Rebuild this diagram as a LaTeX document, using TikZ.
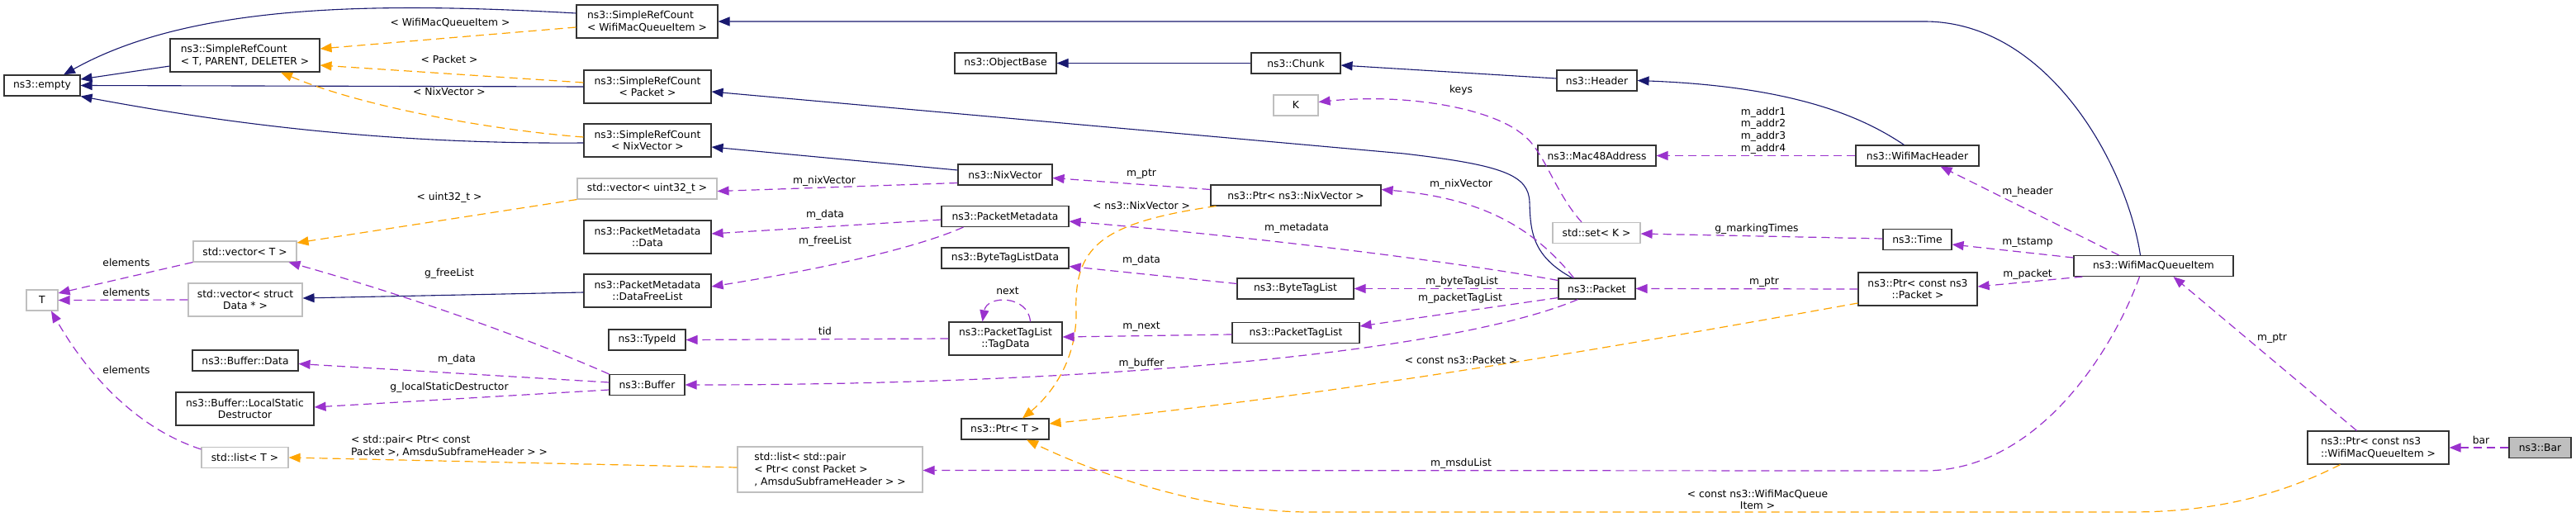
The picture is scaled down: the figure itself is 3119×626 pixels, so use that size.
\documentclass[tikz,border=0pt]{standalone}
\usepackage{fontspec}
\setmainfont{DejaVu Sans}
\usetikzlibrary{arrows.meta}
\definecolor{dxnavy}{RGB}{25,25,112}
\definecolor{dxorchid}{RGB}{154,50,205}
\definecolor{dxorange}{RGB}{255,165,0}
\definecolor{dxgrey}{RGB}{191,191,191}

\begin{document}
\begin{tikzpicture}[x=1pt, y=-1pt, >={Triangle[length=14pt, width=11pt]},
          font=\fontsize{12.3}{14.7}\selectfont,
          cb/.style={draw=black!80, line width=1.1pt, minimum height=25pt,
                     inner xsep=3pt, inner ysep=2pt, align=center},
          gb/.style={cb, draw=dxgrey},
          hb/.style={cb, fill=dxgrey},
          el/.style={inner sep=0pt, align=center},
          ie/.style={->, draw=dxnavy, line width=1.1pt},
          ue/.style={->, draw=dxorchid, line width=1.2pt, dash pattern=on 10pt off 6pt},
          te/.style={->, draw=dxorange, line width=1.2pt, dash pattern=on 10pt off 6pt}]
        \path[use as bounding box, fill=white] (0,0) rectangle (3119,626);
        \node[cb, minimum width=92pt] (empty) at (51,103.5) {ns3::empty};
        \node[cb, minimum width=181pt, minimum height=40pt, align=left] (srct) at (296.5,67) {ns3::SimpleRefCount\\< T, PARENT, DELETER >};
        \node[cb, minimum width=171pt, minimum height=40pt, align=left] (srcq) at (783.5,26) {ns3::SimpleRefCount\\< WifiMacQueueItem >};
        \node[cb, minimum width=154pt, minimum height=40pt] (srcp) at (784,105) {ns3::SimpleRefCount\\< Packet >};
        \node[cb, minimum width=154pt, minimum height=40pt] (srcn) at (784,170) {ns3::SimpleRefCount\\< NixVector >};
        \node[gb, minimum width=169pt] (vecu) at (783.5,228.5) {std::vector< uint32\_t >};
        \node[cb, minimum width=154pt, minimum height=40pt] (pmd) at (784,287) {ns3::PacketMetadata\\::Data};
        \node[cb, minimum width=154pt, minimum height=40pt] (pmfl) at (784,352) {ns3::PacketMetadata\\::DataFreeList};
        \node[cb, minimum width=93pt] (tid) at (783.5,411.5) {ns3::TypeId};
        \node[cb, minimum width=91pt] (buf) at (783.5,466) {ns3::Buffer};
        \node[gb, minimum width=224pt, minimum height=55pt, align=left] (lpair) at (1005,568.5) {std::list< std::pair\\< Ptr< const Packet >\\, AmsduSubframeHeader > >};
        \node[gb, minimum width=125pt] (vect) at (296.5,304.5) {std::vector< T >};
        \node[gb, minimum width=38pt] (tt) at (51,363.5) {T};
        \node[gb, minimum width=138pt, minimum height=40pt] (vecd) at (297,363) {std::vector< struct\\Data * >};
        \node[cb, minimum width=128pt] (bufd) at (297,436.5) {ns3::Buffer::Data};
        \node[cb, minimum width=167pt, minimum height=40pt] (lsd) at (296.5,495) {ns3::Buffer::LocalStatic\\Destructor};
        \node[gb, minimum width=105pt] (listt) at (296.5,554) {std::list< T >};
        \node[cb, minimum width=123pt] (objb) at (1217.5,76.5) {ns3::ObjectBase};
        \node[cb, minimum width=108pt] (chunk) at (1569,76.5) {ns3::Chunk};
        \node[gb, minimum width=54pt] (kk) at (1569,127.5) {K};
        \node[cb, minimum width=114pt] (nixv) at (1217,211.5) {ns3::NixVector};
        \node[cb, minimum width=154pt] (pmeta) at (1217,262) {ns3::PacketMetadata};
        \node[cb, minimum width=154pt] (btld) at (1217,312.5) {ns3::ByteTagListData};
        \node[cb, minimum width=137pt, minimum height=40pt] (tagd) at (1217.5,410) {ns3::PacketTagList\\::TagData};
        \node[cb, minimum width=106pt] (ptrt) at (1217,519.5) {ns3::Ptr< T >};
        \node[cb, minimum width=206pt] (ptrn) at (1569,236.5) {ns3::Ptr< ns3::NixVector >};
        \node[cb, minimum width=141pt] (btl) at (1568.5,349.5) {ns3::ByteTagList};
        \node[cb, minimum width=154pt] (ptl) at (1569,403) {ns3::PacketTagList};
        \node[cb, minimum width=97pt] (hdr) at (1933.5,97.5) {ns3::Header};
        \node[cb, minimum width=143pt] (mac) at (1933.5,188.5) {ns3::Mac48Address};
        \node[gb, minimum width=106pt] (setk) at (1933,282) {std::set< K >};
        \node[cb, minimum width=93pt] (pkt) at (1933.5,349.5) {ns3::Packet};
        \node[cb, minimum width=149pt] (wmh) at (2321.5,188.5) {ns3::WifiMacHeader};
        \node[cb, minimum width=83pt] (time) at (2321.5,290) {ns3::Time};
        \node[cb, minimum width=144pt, minimum height=40pt] (ptrp) at (2322,350) {ns3::Ptr< const ns3\\::Packet >};
        \node[cb, minimum width=193pt] (wmqi) at (2607.5,322) {ns3::WifiMacQueueItem};
        \node[cb, minimum width=171pt, minimum height=40pt, align=left] (ptrq) at (2879.5,542) {ns3::Ptr< const ns3\\::WifiMacQueueItem >};
        \node[hb, minimum width=75pt] (bar) at (3075.5,542) {ns3::Bar};

        \draw[ie] ([yshift=-13pt]srct.west) -- ([yshift=7.5pt]empty.east);
        \draw[ie] ([yshift=10pt]srcq.west) .. controls (450,2) and (230,5) .. ([xshift=26pt]empty.north);
        \draw[ie] (srcp.west) -- (empty.east);
        \draw[ie] ([yshift=-3pt]srcn.west) .. controls (450,175) and (250,145) .. (empty.south east);
        \draw[ie] ([xshift=-16pt]wmqi.north) .. controls (2575,200) and (2480,26) .. (2330,26) -- (srcq.east);
        \draw[ie] ([xshift=-30pt]pkt.north) .. controls (1855,310) and (1853,280) .. (1852,245)
                  .. controls (1851,212) and (1820,200) .. (1700,186) -- ([yshift=-6pt]srcp.east);
        \draw[ie] ([yshift=5.5pt]nixv.west) -- ([yshift=-8pt]srcn.east);
        \draw[ie] (chunk.west) -- (objb.east);
        \draw[ie] ([yshift=2.5pt]hdr.west) -- ([yshift=-2.5pt]chunk.east);
        \draw[ie] ([xshift=-16pt]wmh.north) .. controls (2260,145) and (2180,105) .. (hdr.east);
        \draw[ie] ([yshift=-2pt]pmfl.west) -- ([yshift=2pt]vecd.east);

        \draw[te] ([yshift=-7pt]srcq.west) -- ([yshift=8pt]srct.east);
        \draw[te] ([yshift=5pt]srcp.west) -- ([yshift=-12pt]srct.east);
        \draw[te] ([yshift=4pt]srcn.west) .. controls (600,158) and (440,130) .. ([xshift=43.5pt]srct.south);
        \draw[te] (vecu.south west) -- ([yshift=10.5pt]vect.east);
        \draw[te] ([yshift=2.5pt]lpair.west) -- (listt.east);
        \draw[te] ([xshift=7pt]ptrn.south west) .. controls (1330,270) and (1300,300) .. (1303,380)
                  .. controls (1303,440) and (1270,480) .. ([xshift=21pt]ptrt.north);
        \draw[te] ([yshift=-17pt]ptrp.west) .. controls (1900,430) and (1600,480) .. ([yshift=6.5pt]ptrt.east);
        \draw[te] ([xshift=-46pt]ptrq.south) .. controls (2760,600) and (2680,620) .. (2580,620) -- (1580,620)
                  .. controls (1450,618) and (1320,570) .. ([xshift=26pt]ptrt.south);

        \draw[ue] (vect.south west) -- ([yshift=8.5pt]tt.east);
        \draw[ue] (vecd.west) -- (tt.east);
        \draw[ue] ([yshift=10pt]listt.west) .. controls (170,520) and (110,460) .. ([xshift=11pt]tt.south);
        \draw[ue] (buf.north west) .. controls (640,410) and (500,360) .. ([xshift=53pt]vect.south);
        \draw[ue] ([yshift=3pt]buf.west) -- ([yshift=-4pt]bufd.east);
        \draw[ue] ([yshift=-6pt]buf.west) -- ([yshift=2pt]lsd.east);
        \draw[ue] ([yshift=-10pt]nixv.west) -- ([yshift=-3pt]vecu.east);
        \draw[ue] ([yshift=-4pt]pmeta.west) -- ([yshift=4pt]pmd.east);
        \draw[ue] ([xshift=27pt]pmeta.south west) .. controls (1110,300) and (1000,325) .. ([yshift=5pt]pmfl.east);
        \draw[ue] (tagd.west) -- (tid.east);
        \draw[ue] ([xshift=30pt]tagd.north) .. controls (1245,357) and (1195,357) .. ([xshift=-28pt]tagd.north);
        \draw[ue] ([xshift=-23pt]pkt.south) .. controls (1750,430) and (1300,466) .. (buf.east);
        \draw[ue] ([yshift=7pt]ptrn.west) -- ([yshift=-4pt]nixv.east);
        \draw[ue] ([yshift=10pt]pkt.west) .. controls (1750,315) and (1500,285) .. ([yshift=-6pt]pmeta.east);
        \draw[ue] ([yshift=6pt]btl.west) -- ([yshift=-10pt]btld.east);
        \draw[ue] ([yshift=-2pt]ptl.west) -- ([yshift=2pt]tagd.east);
        \draw[ue] ([xshift=-18pt]setk.north) .. controls (1880,230) and (1870,180) .. (1840,160)
                  .. controls (1800,130) and (1700,113) .. ([yshift=4pt]kk.east);
        \draw[ue] ([xshift=-28pt]pkt.north) .. controls (1860,280) and (1800,240) .. ([yshift=7pt]ptrn.east);
        \draw[ue] (pkt.west) -- (btl.east);
        \draw[ue] ([yshift=-11pt]pkt.west) -- ([yshift=8pt]ptl.east);
        \draw[ue] (wmh.west) -- (mac.east);
        \draw[ue] ([yshift=1pt]time.west) -- ([yshift=-1pt]setk.east);
        \draw[ue] (ptrp.west) -- (pkt.east);
        \draw[ue] ([xshift=-42pt]wmqi.north) -- ([xshift=28pt]wmh.south);
        \draw[ue] ([yshift=10pt]wmqi.west) -- ([yshift=-6pt]time.east);
        \draw[ue] ([xshift=11pt]wmqi.south west) -- ([yshift=3pt]ptrp.east);
        \draw[ue] ([xshift=-17pt]wmqi.south) .. controls (2560,420) and (2470,570) .. (2330,570) -- ([yshift=-1pt]lpair.east);
        \draw[ue] ([xshift=-26pt]ptrq.north) -- ([xshift=24pt]wmqi.south);
        \draw[ue] (bar.west) -- (ptrq.east);

        \node[el] (lq) at (545,28) {< WifiMacQueueItem >};
        \node[el] (lp) at (544,72) {< Packet >};
        \node[el] (ln) at (544,111) {< NixVector >};
        \node[el] (lu) at (544,239) {< uint32\_t >};
        \node[el] (le1) at (153,318) {elements};
        \node[el] (le2) at (153,354) {elements};
        \node[el] (le3) at (153,448) {elements};
        \node[el] (lfl) at (544,331) {g\_freeList};
        \node[el] (lbd) at (553,435) {m\_data};
        \node[el] (llsd) at (544,469) {g\_localStaticDestructor};
        \node[el, align=left] (lpr) at (544,540) {< std::pair< Ptr< const\\Packet >, AmsduSubframeHeader > >};
        \node[el] (lnv) at (998,219) {m\_nixVector};
        \node[el] (lmd) at (999,260) {m\_data};
        \node[el] (lfr) at (999,292) {m\_freeList};
        \node[el] (ltid) at (999,401) {tid};
        \node[el] (lptr) at (1382,211) {m\_ptr};
        \node[el] (lnx) at (1382,249) {< ns3::NixVector >};
        \node[el] (lmeta) at (1570,276) {m\_metadata};
        \node[el] (lbtd) at (1382,315) {m\_data};
        \node[el] (lnext) at (1220,352) {next};
        \node[el] (lmn) at (1382,396) {m\_next};
        \node[el] (lbuf) at (1382,440) {m\_buffer};
        \node[el] (lkeys) at (1769,109) {keys};
        \node[el] (lpnv) at (1769,223) {m\_nixVector};
        \node[el] (lbtl) at (1770,341) {m\_byteTagList};
        \node[el] (lptl) at (1768,361) {m\_packetTagList};
        \node[el] (lcp) at (1769,436) {< const ns3::Packet >};
        \node[el] (lmsdu) at (1769,561) {m\_msduList};
        \node[el] (lcq) at (2128,605) {< const ns3::WifiMacQueue\\Item >};
        \node[el] (lmark) at (2127,277) {g\_markingTimes};
        \node[el] (laddr) at (2135,158) {m\_addr1\\m\_addr2\\m\_addr3\\m\_addr4};
        \node[el] (lhdr) at (2455,232) {m\_header};
        \node[el] (lts) at (2455,294) {m\_tstamp};
        \node[el] (lpp) at (2136,342) {m\_ptr};
        \node[el] (lpk) at (2455,332) {m\_packet};
        \node[el] (lqp) at (2751,410) {m\_ptr};
        \node[el] (lbar) at (3004,533) {bar};
      \end{tikzpicture}
\end{document}
